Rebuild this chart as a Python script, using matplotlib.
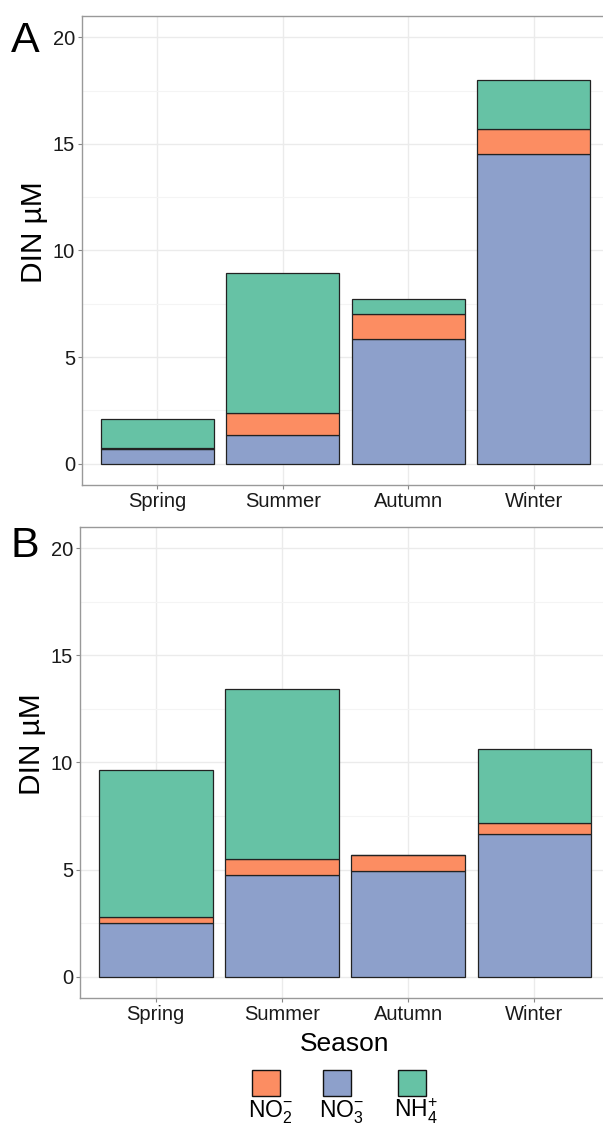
import matplotlib.pyplot as plt
from matplotlib.patches import Rectangle
import numpy as np

plt.rcParams['font.family'] = ['Liberation Sans', 'DejaVu Sans']
plt.rcParams['mathtext.fontset'] = 'custom'
plt.rcParams['mathtext.rm'] = 'Liberation Sans'
plt.rcParams['mathtext.default'] = 'regular'

seasons = ['Spring', 'Summer', 'Autumn', 'Winter']

# panel A
no3_a = np.array([0.67, 1.36, 5.84, 14.55])
no2_a = np.array([0.05, 1.01, 1.19, 1.14])
nh4_a = np.array([1.37, 6.59, 0.68, 2.30])

# panel B
no3_b = np.array([2.51, 4.73, 4.91, 6.68])
no2_b = np.array([0.26, 0.74, 0.78, 0.48])
nh4_b = np.array([6.90, 7.97, 0.00, 3.49])

c_no2 = '#FC8D62'
c_no3 = '#8DA0CB'
c_nh4 = '#66C2A5'

W, H = 603, 1127
fig = plt.figure(figsize=(W / 100, H / 100), dpi=100)


def px_axes(l, t, r, b):
    return fig.add_axes([l / W, 1 - b / H, (r - l) / W, (b - t) / H])


def panel(ax, no3, no2, nh4):
    x = np.arange(1, len(seasons) + 1)
    kw = dict(width=0.9, edgecolor='#222222', linewidth=0.9, zorder=3)
    ax.bar(x, no3, color=c_no3, **kw)
    ax.bar(x, no2, bottom=no3, color=c_no2, **kw)
    ax.bar(x, nh4, bottom=no3 + no2, color=c_nh4, **kw)
    ax.set_xlim(0.4, 4.6)
    ax.set_ylim(-1, 21)
    ax.set_xticks(x)
    ax.set_xticklabels(seasons)
    ax.set_yticks([0, 5, 10, 15, 20])
    ax.set_yticks([2.5, 7.5, 12.5, 17.5], minor=True)
    ax.grid(True, which='major', color='#ebebeb', linewidth=1.0, zorder=0)
    ax.grid(True, which='minor', axis='y', color='#f4f4f4', linewidth=0.8, zorder=0)
    ax.tick_params(which='major', length=3, width=0.8, color='#888888',
                   labelsize=14.5, labelcolor='#1a1a1a', pad=2)
    ax.tick_params(which='minor', length=0)
    for s in ax.spines.values():
        s.set_color('#999999')
        s.set_linewidth(1.0)
    ax.spines['right'].set_visible(False)
    ax.set_ylabel('DIN µM', fontsize=21.5)
    ax.yaxis.set_label_coords(-0.064, 0.54)
    ax.set_axisbelow(True)


axA = px_axes(82, 16, 609, 485)
panel(axA, no3_a, no2_a, nh4_a)
axB = px_axes(80, 527, 610, 998)
panel(axB, no3_b, no2_b, nh4_b)
axB.set_xlabel('Season', fontsize=19, labelpad=6)

fig.text(11 / W, 1 - 52 / H, 'A', fontsize=31, va='baseline', ha='left')
fig.text(11 / W, 1 - 557 / H, 'B', fontsize=31, va='baseline', ha='left')

# legend: keys above labels
labels = ['NO$_2^{-}$', 'NO$_3^{-}$', 'NH$_4^{+}$']
colors = [c_no2, c_no3, c_nh4]
key_left = [252, 323, 398]
for lab, col, kl in zip(labels, colors, key_left):
    fig.patches.append(Rectangle((kl / W, 1 - 1096 / H), 28 / W, 26 / H,
                                 transform=fig.transFigure, facecolor=col,
                                 edgecolor='#111111', linewidth=1.0))
    fig.text((kl - 4) / W, 1 - 1118 / H, lab, fontsize=16.5, ha='left',
             va='baseline')

fig.savefig('out.png', dpi=100)
